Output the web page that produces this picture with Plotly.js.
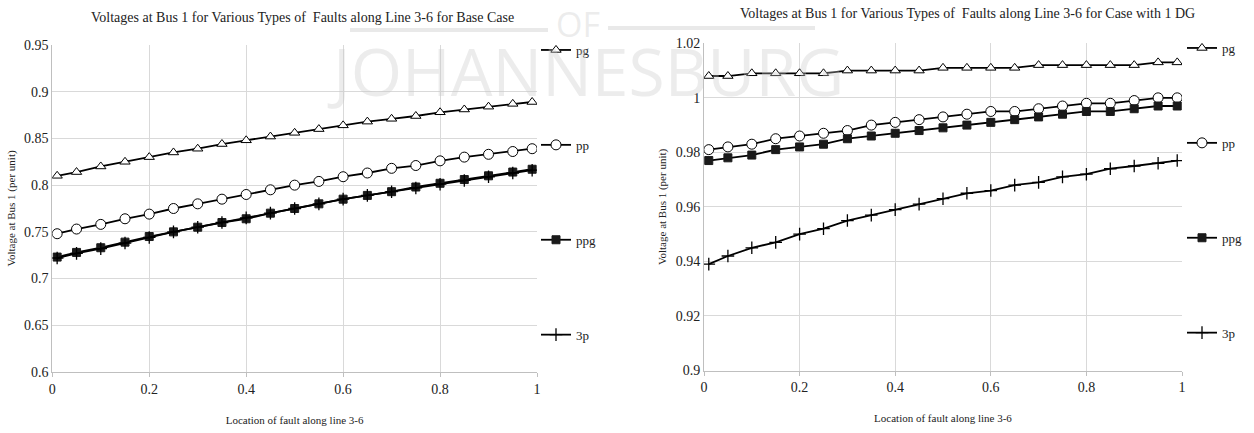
<!DOCTYPE html>
<html>
<head>
<meta charset="utf-8">
<script src="https://cdn.plot.ly/plotly-3.0.1.min.js"></script>
<style>html,body{margin:0;padding:0;background:#fff;}#chart{width:1254px;height:433px;}</style>
</head>
<body>
<div id="chart"></div>
<script>
// Fault location along line 3-6
const location36 = [0.01,0.05,0.1,0.15,0.2,0.25,0.3,0.35,0.4,0.45,0.5,0.55,0.6,0.65,0.7,0.75,0.8,0.85,0.9,0.95,0.99];

// Base case
const basePg  = [0.810,0.814,0.820,0.825,0.830,0.835,0.839,0.844,0.848,0.852,0.856,0.860,0.864,0.868,0.871,0.874,0.878,0.881,0.884,0.887,0.889];
const basePp  = [0.748,0.753,0.758,0.764,0.769,0.775,0.780,0.785,0.790,0.795,0.800,0.804,0.809,0.813,0.818,0.821,0.826,0.830,0.833,0.836,0.839];
const basePpg = [0.723,0.728,0.733,0.739,0.745,0.750,0.755,0.760,0.764,0.770,0.775,0.780,0.785,0.789,0.793,0.798,0.802,0.806,0.810,0.814,0.817];
const base3p  = [0.722,0.727,0.732,0.738,0.744,0.750,0.755,0.760,0.765,0.770,0.775,0.780,0.785,0.789,0.793,0.797,0.801,0.805,0.809,0.813,0.816];

// Case with 1 DG
const dgPg  = [1.008,1.008,1.009,1.009,1.009,1.009,1.010,1.010,1.010,1.010,1.011,1.011,1.011,1.011,1.012,1.012,1.012,1.012,1.012,1.013,1.013];
const dgPp  = [0.981,0.982,0.983,0.985,0.986,0.987,0.988,0.990,0.991,0.992,0.993,0.994,0.995,0.995,0.996,0.997,0.998,0.998,0.999,1.000,1.000];
const dgPpg = [0.977,0.978,0.979,0.981,0.982,0.983,0.985,0.986,0.987,0.988,0.989,0.990,0.991,0.992,0.993,0.994,0.995,0.995,0.996,0.997,0.997];
const dg3p  = [0.939,0.942,0.945,0.947,0.950,0.952,0.955,0.957,0.959,0.961,0.963,0.965,0.966,0.968,0.969,0.971,0.972,0.974,0.975,0.976,0.977];

const seriesNames = ['pg','pp','ppg','3p'];
const chartTitles = ['Voltages at Bus 1 for Various Types of  Faults along Line 3-6 for Base Case',
                     'Voltages at Bus 1 for Various Types of  Faults along Line 3-6 for Case with 1 DG'];
const xTitle = 'Location of fault along line 3-6';
const yTitle = 'Voltage at Bus 1 (per unit)';

const FONT = 'Liberation Serif, Times New Roman, serif';
const markerStyles = [
  {symbol:'triangle-up', size:9, color:'#fff', line:{color:'#000', width:1}},
  {symbol:'circle', size:10, color:'#fff', line:{color:'#000', width:1}},
  {symbol:'square', size:8, color:'#1a1a1a', line:{color:'#1a1a1a', width:1}},
  {symbol:'cross-thin', size:9, color:'#000', line:{color:'#000', width:1.3}}
];

function mk(y, i, xa, ya, leg) {
  return {
    x: location36, y: y, type:'scatter', mode:'lines+markers',
    name: seriesNames[i], xaxis: xa, yaxis: ya, legend: leg,
    legendgroup: leg + seriesNames[i],
    line:{color:'#000', width:1.8},
    marker: markerStyles[i]
  };
}

const data = [
  mk(basePg,0,'x','y','legend'), mk(basePp,1,'x','y','legend'), mk(basePpg,2,'x','y','legend'), mk(base3p,3,'x','y','legend'),
  mk(dgPg,0,'x2','y2','legend2'), mk(dgPp,1,'x2','y2','legend2'), mk(dgPpg,2,'x2','y2','legend2'), mk(dg3p,3,'x2','y2','legend2')
];

const W = 1254, H = 433;
const axisCommon = {
  showgrid:true, gridcolor:'#d9d9d9', gridwidth:1, zeroline:false,
  showline:true, linecolor:'#bfbfbf', linewidth:1,
  tickfont:{family:FONT, size:14, color:'#222'},
  mirror:false
};
const xCommon = Object.assign({}, axisCommon, {range:[0,1], dtick:0.2, tick0:0, ticks:'outside', ticklen:4, tickcolor:'#bfbfbf',
  title:{text:xTitle, font:{family:FONT, size:11, color:'#222'}, standoff:20}});

const legendCommon = {
  font:{family:FONT, size:13, color:'#222'}, bgcolor:'rgba(0,0,0,0)', borderwidth:0,
  tracegroupgap:75, xanchor:'left', yanchor:'top', itemwidth:30
};

const layout = {
  width:W, height:H, margin:{l:0,r:0,t:0,b:0}, paper_bgcolor:'#fff', plot_bgcolor:'#fff',
  showlegend:true,
  xaxis: Object.assign({}, xCommon, {domain:[52.3/W, 537/W], anchor:'y'}),
  yaxis: Object.assign({}, axisCommon, {domain:[1-372/H, 1-45/H], range:[0.6,0.95], dtick:0.05, tick0:0.6, anchor:'x', ticks:'',
    title:{text:yTitle, font:{family:FONT, size:11, color:'#222'}, standoff:6}}),
  xaxis2: Object.assign({}, xCommon, {domain:[704/W, 1182/W], anchor:'y2'}),
  yaxis2: Object.assign({}, axisCommon, {domain:[1-370.5/H, 1-43.3/H], range:[0.9,1.02], dtick:0.02, tick0:0.9, anchor:'x2', ticks:'',
    title:{text:yTitle, font:{family:FONT, size:11, color:'#222'}, standoff:6}}),
  legend: Object.assign({}, legendCommon, {x:536/W, y:1-35/H}),
  legend2: Object.assign({}, legendCommon, {x:1182/W, y:1-33/H}),
  annotations: [
    {text:chartTitles[0], xref:'paper', yref:'paper', x:302/W, y:1-17/H, showarrow:false, xanchor:'center', yanchor:'middle',
     font:{family:FONT, size:14, color:'#222'}},
    {text:chartTitles[1], xref:'paper', yref:'paper', x:967/W, y:1-13/H, showarrow:false, xanchor:'center', yanchor:'middle',
     font:{family:FONT, size:14, color:'#222'}},
    {text:'JOHANNESBURG', xref:'paper', yref:'paper', x:585/W, y:1-70/H, showarrow:false, xanchor:'center', yanchor:'middle',
     font:{family:'Open Sans, Noto Sans, sans-serif', size:66, color:'rgba(200,200,200,0.35)'}},
    {text:'OF', xref:'paper', yref:'paper', x:578/W, y:1-24/H, showarrow:false, xanchor:'center', yanchor:'middle',
     font:{family:'Open Sans, Noto Sans, sans-serif', size:34, color:'rgba(200,200,200,0.35)'}}
  ],
  shapes: [
    {type:'line', xref:'paper', yref:'paper', x0:350/W, x1:548/W, y0:1-30/H, y1:1-30/H, line:{color:'rgba(200,200,200,0.4)', width:4}, layer:'below'},
    {type:'line', xref:'paper', yref:'paper', x0:608/W, x1:815/W, y0:1-28/H, y1:1-28/H, line:{color:'rgba(200,200,200,0.4)', width:4}, layer:'below'}
  ]
};

Plotly.newPlot('chart', data, layout, {staticPlot:true, displayModeBar:false});
</script>
</body>
</html>
